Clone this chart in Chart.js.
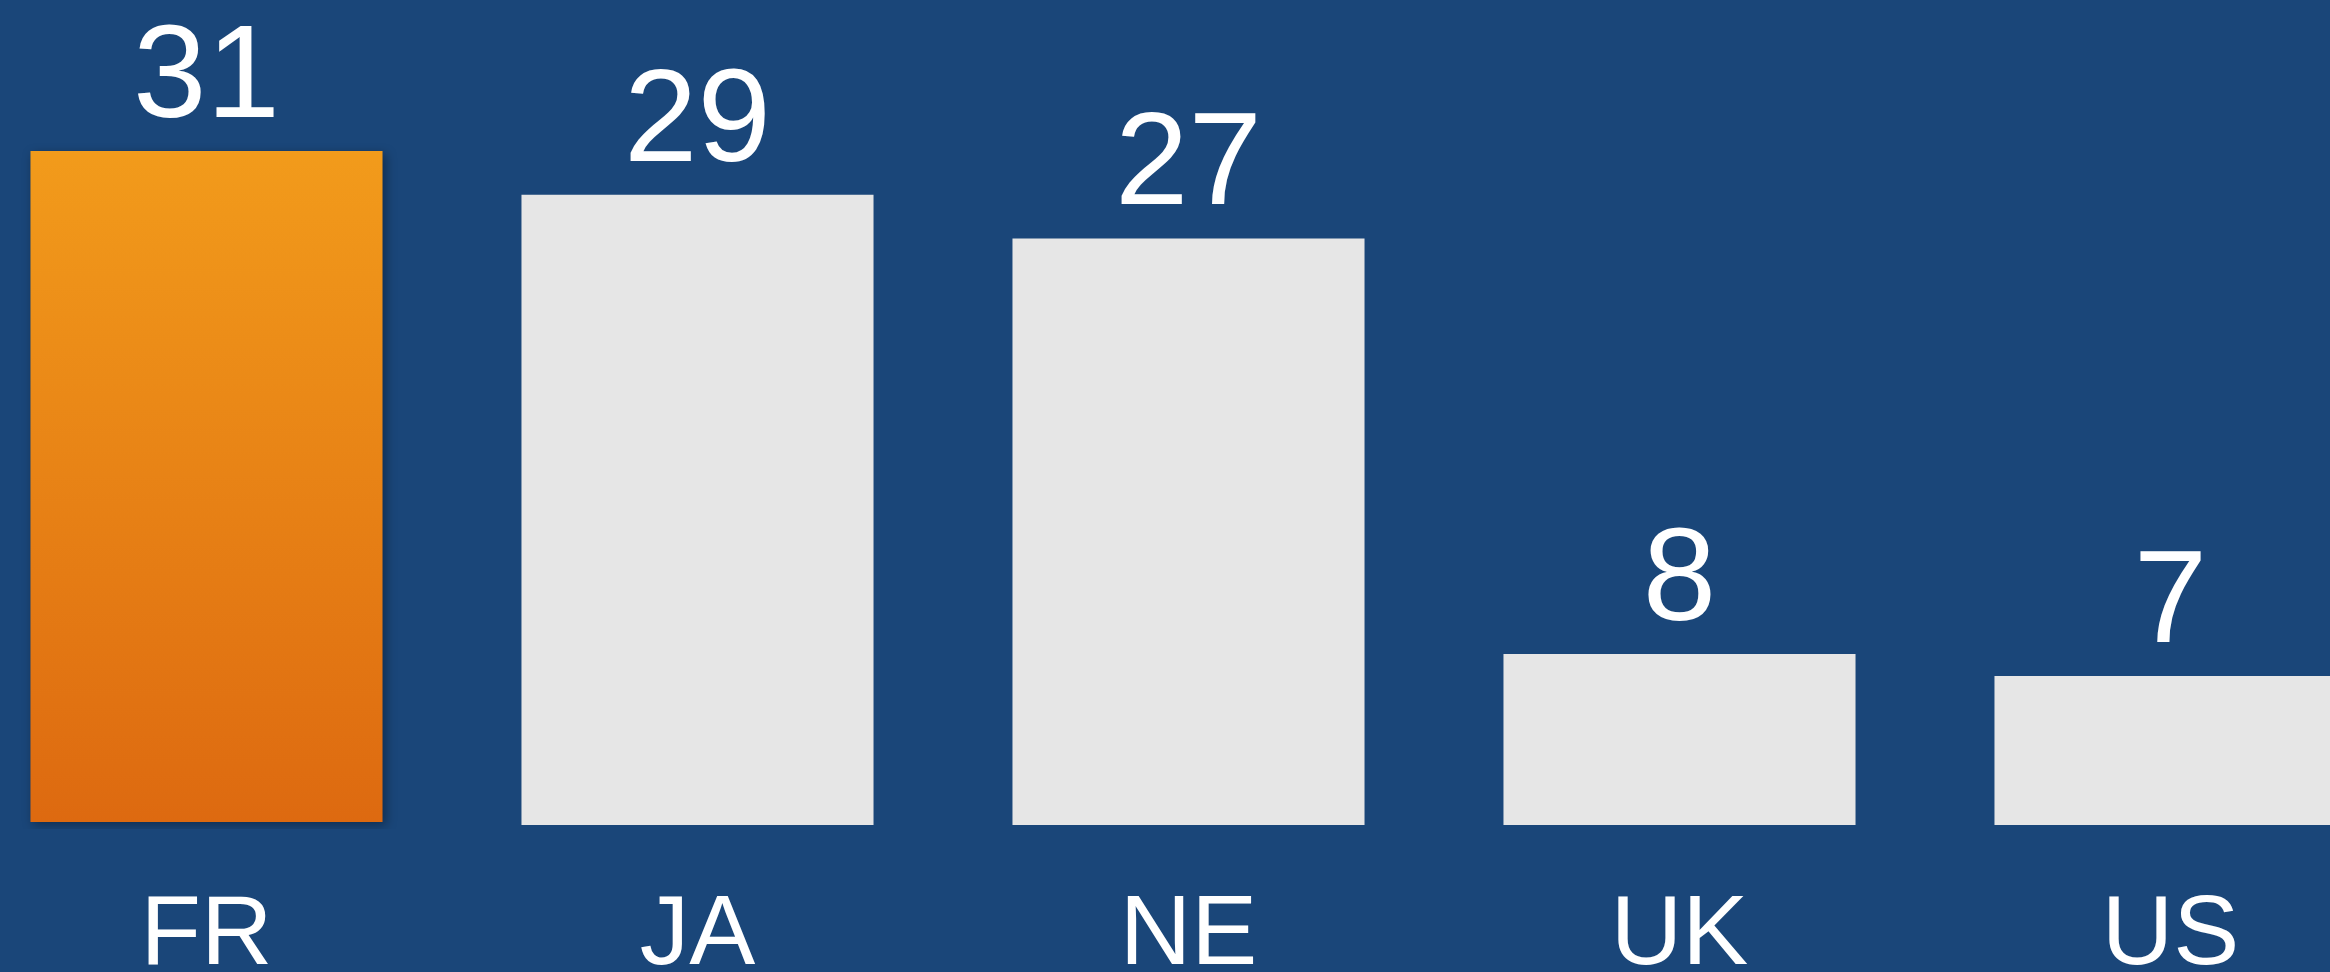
<!DOCTYPE html>
<html>
<head>
<meta charset="utf-8">
<script src="https://cdn.jsdelivr.net/npm/chart.js@4/dist/chart.umd.min.js"></script>
<style>
    html, body { margin: 0; padding: 0; background: #1a4679; overflow: hidden; }
    #wrap { position: absolute; left: -39px; top: 0; width: 2455px; height: 972px; }
</style>
</head>
<body>
<div id="wrap"><canvas id="countryChart"></canvas></div>
<script>
const countries = ['FR', 'JA', 'NE', 'UK', 'US'];
const counts = [31, 29, 27, 8, 7];
const highlightIndex = 0;

const labelFont = '"Liberation Sans", Arial, Helvetica, sans-serif';

// highlighted bar and the rest go in separate datasets sharing one slot
const highlightData = counts.map((v, i) => i === highlightIndex ? v : null);
const restData = counts.map((v, i) => i === highlightIndex ? null : v);

function orangeGradient(context) {
    const chart = context.chart;
    const y = chart.scales.y;
    if (!chart.chartArea || !y) return '#e8821a';
    const g = chart.ctx.createLinearGradient(0, y.getPixelForValue(counts[highlightIndex]), 0, y.getPixelForValue(0));
    g.addColorStop(0, '#f29b1b');
    g.addColorStop(1, '#dd6910');
    return g;
}

const valueLabels = {
    id: 'valueLabels',
    beforeDatasetDraw(chart, args) {
        if (args.index === 0) {
            const ctx = chart.ctx;
            ctx.save();
            ctx.shadowColor = 'rgba(0, 0, 0, 0.35)';
            ctx.shadowBlur = 10;
            ctx.shadowOffsetX = 3;
            ctx.shadowOffsetY = 3;
        }
    },
    afterDatasetDraw(chart, args) {
        if (args.index === 0) chart.ctx.restore();
    },
    afterDatasetsDraw(chart) {
        const ctx = chart.ctx;
        ctx.save();
        ctx.fillStyle = '#ffffff';
        ctx.font = '132px ' + labelFont;
        ctx.textAlign = 'center';
        ctx.textBaseline = 'alphabetic';
        chart.data.datasets.forEach((ds, di) => {
            const meta = chart.getDatasetMeta(di);
            meta.data.forEach((bar, i) => {
                if (ds.data[i] === null) return;
                ctx.fillText(String(ds.data[i]), bar.x, bar.y - 34);
            });
        });
        ctx.restore();
    }
};

const ctx = document.getElementById('countryChart').getContext('2d');
new Chart(ctx, {
    type: 'bar',
    data: {
        labels: countries,
        datasets: [
            {
                label: 'Highlight',
                data: highlightData,
                backgroundColor: orangeGradient,
                base: 0.32,
                barPercentage: 0.717,
                categoryPercentage: 1
            },
            {
                label: 'Count',
                data: restData,
                backgroundColor: '#e6e6e6',
                base: 0.18,
                barPercentage: 0.717,
                categoryPercentage: 1
            }
        ]
    },
    options: {
        responsive: true,
        maintainAspectRatio: false,
        animation: false,
        layout: { padding: 0 },
        plugins: {
            legend: { display: false },
            tooltip: { enabled: false }
        },
        scales: {
            x: {
                stacked: true,
                grid: { display: false, drawTicks: false },
                border: { display: false },
                ticks: {
                    color: '#ffffff',
                    padding: 58,
                    font: { family: labelFont, size: 99, lineHeight: 1 }
                },
                afterFit(scale) {
                    scale.height = 143;
                }
            },
            y: {
                display: false,
                stacked: false,
                min: 0,
                max: 37.9
            }
        }
    },
    plugins: [valueLabels]
});
</script>
</body>
</html>
